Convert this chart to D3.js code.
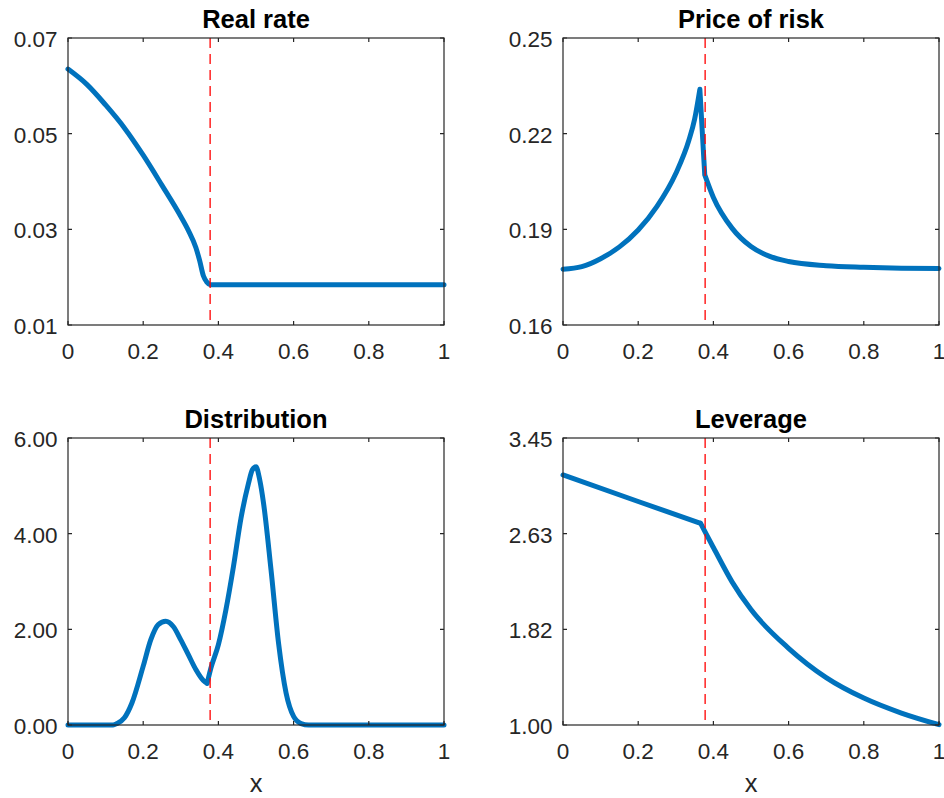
<!DOCTYPE html>
<html>
<head>
<meta charset="utf-8">
<script src="https://cdn.jsdelivr.net/npm/d3@7"></script>
<style>
  body { margin: 0; background: #fff; }
  svg text { font-family: 'Liberation Sans', Arial, Helvetica, sans-serif; }
</style>
</head>
<body>
<div id="chart"></div>
<script>
const titles = ['Real rate', 'Price of risk', 'Distribution', 'Leverage']
const xTicks = [0, 0.2, 0.4, 0.6, 0.8, 1]
const cutoff = 0.378

const rateTicks = [0.01, 0.03, 0.05, 0.07]
const rateX = [0, 0.05, 0.1, 0.15, 0.2, 0.25, 0.3, 0.32, 0.34, 0.35, 0.36, 0.37, 0.378, 0.5, 0.7, 1]
const rateY = [0.0635, 0.0603, 0.0560, 0.0512, 0.0455, 0.0392, 0.0327, 0.0298, 0.0262, 0.0235, 0.0203, 0.0189, 0.0184, 0.0184, 0.0184, 0.0184]
const rateKinks = []

const riskTicks = [0.16, 0.19, 0.22, 0.25]
const riskX = [0, 0.05, 0.1, 0.15, 0.2, 0.25, 0.3, 0.335, 0.35, 0.364, 0.377, 0.4, 0.45, 0.5, 0.55, 0.6, 0.7, 0.8, 0.9, 1]
const riskY = [0.1775, 0.1783, 0.1808, 0.1845, 0.1898, 0.1972, 0.2075, 0.2180, 0.2245, 0.2339, 0.2071, 0.2000, 0.1903, 0.1846, 0.1815, 0.1799, 0.1786, 0.1781, 0.1778, 0.1777]
const riskKinks = [0.364, 0.377]

const distTicks = [0, 2, 4, 6]
const distX = [0, 0.12, 0.13, 0.15, 0.17, 0.2, 0.22, 0.24, 0.26, 0.28, 0.3, 0.32, 0.34, 0.36, 0.37, 0.38, 0.4, 0.42, 0.44, 0.46, 0.48, 0.49, 0.5, 0.51, 0.52, 0.54, 0.56, 0.58, 0.6, 0.62, 0.64, 1]
const distY = [0, 0, 0.03, 0.15, 0.46, 1.23, 1.78, 2.1, 2.17, 2.06, 1.78, 1.47, 1.16, 0.93, 0.87, 1.19, 1.68, 2.41, 3.31, 4.32, 5.05, 5.33, 5.40, 5.12, 4.64, 3.24, 1.71, 0.67, 0.18, 0.03, 0, 0]
const distKinks = [0.37]

const levTicks = [1, 1.8167, 2.6333, 3.45]
const levX = [0, 0.2, 0.366, 0.38, 0.4, 0.45, 0.5, 0.6, 0.7, 0.8, 0.9, 1]
const levY = [3.1345, 2.908, 2.722, 2.635, 2.515, 2.22, 1.985, 1.655, 1.405, 1.230, 1.102, 1.003]
const levKinks = [0.366]

const width = 944
const height = 798
const plotW = 376
const plotH = 287
const lefts = [68, 563]
const tops = [38, 438]

const svg = d3.select('#chart')
  .append('svg')
    .attr('width', width)
    .attr('height', height)

const panels = [
  { title: titles[0], xs: rateX, ys: rateY, ticks: rateTicks, kinks: rateKinks, xlabel: false },
  { title: titles[1], xs: riskX, ys: riskY, ticks: riskTicks, kinks: riskKinks, xlabel: false },
  { title: titles[2], xs: distX, ys: distY, ticks: distTicks, kinks: distKinks, xlabel: true },
  { title: titles[3], xs: levX, ys: levY, ticks: levTicks, kinks: levKinks, xlabel: true },
]

// split a series at its kinks so each smooth piece is drawn separately
function pieces(xs, ys, kinks) {
  const out = []
  let cur = []
  xs.forEach((v, k) => {
    cur.push([v, ys[k]])
    if (kinks.includes(v) && k > 0 && k < xs.length - 1) {
      out.push(cur)
      cur = [[v, ys[k]]]
    }
  })
  out.push(cur)
  return out
}

panels.forEach((p, i) => {
  const left = lefts[i % 2]
  const top = tops[Math.floor(i / 2)]

  const g = svg.append('g')
    .attr('transform', `translate(${left}, ${top})`)

  const x = d3.scaleLinear()
    .domain([0, 1])
    .range([0, plotW])

  const y = d3.scaleLinear()
    .domain(d3.extent(p.ticks))
    .range([plotH, 0])

  // data line
  const line = d3.line()
    .x(d => x(d[0]))
    .y(d => y(d[1]))
    .curve(d3.curveMonotoneX)

  const d = pieces(p.xs, p.ys, p.kinks).map(seg => line(seg)).join('')

  g.append('path')
    .attr('d', d)
    .attr('fill', 'none')
    .attr('stroke', '#0072bd')
    .attr('stroke-width', 5)
    .attr('stroke-linejoin', 'round')
    .attr('stroke-linecap', 'round')

  // cutoff marker
  g.append('line')
    .attr('x1', x(cutoff))
    .attr('x2', x(cutoff))
    .attr('y1', 0)
    .attr('y2', plotH)
    .attr('stroke', '#ff0000')
    .attr('stroke-width', 1.3)
    .attr('stroke-dasharray', '10,6')

  // box
  g.append('rect')
    .attr('width', plotW)
    .attr('height', plotH)
    .attr('fill', 'none')
    .attr('stroke', '#262626')
    .attr('stroke-width', 1.2)

  // ticks on all four sides, pointing in
  const tickLen = 4
  g.selectAll('.xt')
    .data(xTicks)
    .enter()
    .append('path')
      .attr('d', d => `M${x(d)},${plotH}v${-tickLen}M${x(d)},0v${tickLen}`)
      .attr('stroke', '#262626')
      .attr('stroke-width', 1.2)

  g.selectAll('.yt')
    .data(p.ticks)
    .enter()
    .append('path')
      .attr('d', d => `M0,${y(d)}h${tickLen}M${plotW},${y(d)}h${-tickLen}`)
      .attr('stroke', '#262626')
      .attr('stroke-width', 1.2)

  // tick labels
  g.selectAll('.xl')
    .data(xTicks)
    .enter()
    .append('text')
      .attr('x', d => x(d))
      .attr('y', plotH + 34)
      .attr('text-anchor', 'middle')
      .attr('font-size', 22.5)
      .attr('fill', '#262626')
      .text(d => d3.format('~g')(d))

  g.selectAll('.yl')
    .data(p.ticks)
    .enter()
    .append('text')
      .attr('x', -10.5)
      .attr('y', d => y(d) + 9)
      .attr('text-anchor', 'end')
      .attr('font-size', 22.5)
      .attr('fill', '#262626')
      .text(d => d3.format('.2f')(d))

  // title
  g.append('text')
    .attr('x', plotW / 2)
    .attr('y', -10)
    .attr('text-anchor', 'middle')
    .attr('font-size', 25.5)
    .attr('font-weight', 'bold')
    .attr('fill', '#000')
    .text(p.title)

  if (p.xlabel) {
    g.append('text')
      .attr('x', plotW / 2)
      .attr('y', plotH + 67)
      .attr('text-anchor', 'middle')
      .attr('font-size', 25.5)
      .attr('fill', '#262626')
      .text('x')
  }
})
</script>
</body>
</html>
